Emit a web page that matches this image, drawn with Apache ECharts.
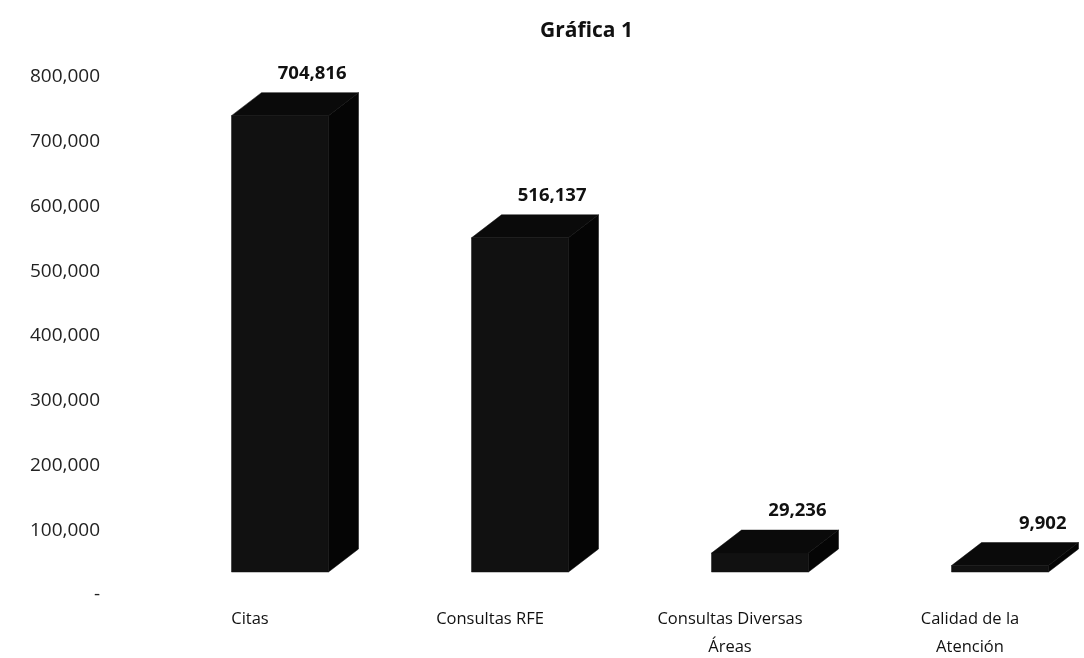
<!DOCTYPE html>
<html><head><meta charset="utf-8">
<script src="https://cdn.jsdelivr.net/npm/echarts@6/dist/echarts.min.js"></script>
<style>html,body{margin:0;padding:0;background:#fff}#c{width:1084px;height:658px}</style>
</head><body><div id="c"></div>
<script>
const titleText = 'Gráfica 1';
const categories = ['Citas', 'Consultas RFE', 'Consultas Diversas\nÁreas', 'Calidad de la\nAtención'];
const values = [704816, 516137, 29236, 9902];
const yTicks = [0, 100000, 200000, 300000, 400000, 500000, 600000, 700000, 800000];

const fmt = v => String(v).replace(/\B(?=(\d{3})+(?!\d))/g, ',');
const chart = echarts.init(document.getElementById('c'));
const FONT = '"Open Sans", "Noto Sans", sans-serif';

chart.setOption({
  backgroundColor: '#fff',
  animation: false,
  title: {
    text: titleText, left: 535, top: 16,
    textStyle: { fontFamily: FONT, fontWeight: 'bold', fontSize: 21, color: '#111' }
  },
  grid: { left: 160, width: 960, top: 77, bottom: 63, outerBoundsMode: 'none', containLabel: false },
  xAxis: {
    type: 'category', data: categories, boundaryGap: true,
    axisLine: { show: false }, axisTick: { show: false },
    axisLabel: {
      margin: 10, fontFamily: FONT, fontSize: 16.5, color: '#111', lineHeight: 28,
      padding: [0, 60, 0, 0], interval: 0
    }
  },
  yAxis: {
    type: 'value', min: yTicks[0], max: yTicks[yTicks.length - 1], interval: 100000,
    axisLine: { show: false }, axisTick: { show: false }, splitLine: { show: false },
    axisLabel: {
      margin: 60, fontFamily: FONT, fontSize: 19, color: '#222',
      formatter: v => v === 0 ? '-' : fmt(v)
    }
  },
  series: [{
    type: 'custom',
    data: values.map((v, i) => [i, v]),
    encode: { x: 0, y: 1 },
    renderItem: function (params, api) {
      const i = api.value(0), v = api.value(1);
      const base = api.coord([i, 0]);
      const top = api.coord([i, v]);
      const w = api.size([1, 0])[0] * 0.404;
      const off = 23, dx = 30, dy = 23;
      const cx = base[0];
      const yb = base[1] - off, yt = top[1] - off;
      const l = cx - w / 2, r = cx + w / 2;
      return {
        type: 'group',
        children: [
          { type: 'polygon', shape: { points: [[r, yt], [r + dx, yt - dy], [r + dx, yb - dy], [r, yb]] },
            style: { fill: '#050505', stroke: '#050505', lineWidth: 0.5 } },
          { type: 'polygon', shape: { points: [[l, yt], [l + dx, yt - dy], [r + dx, yt - dy], [r, yt]] },
            style: { fill: '#0a0a0a', stroke: '#0a0a0a', lineWidth: 0.5 } },
          { type: 'rect', shape: { x: l, y: yt, width: w, height: yb - yt },
            style: { fill: '#111', stroke: '#111', lineWidth: 0.5 } },
          { type: 'text', x: r + dx - 12, y: yt - dy - 19,
            style: { text: fmt(v), fontFamily: FONT, fontSize: 18.5, fontWeight: 'bold', fill: '#111',
                     align: 'right', verticalAlign: 'middle' } }
        ]
      };
    }
  }]
});
</script></body></html>
